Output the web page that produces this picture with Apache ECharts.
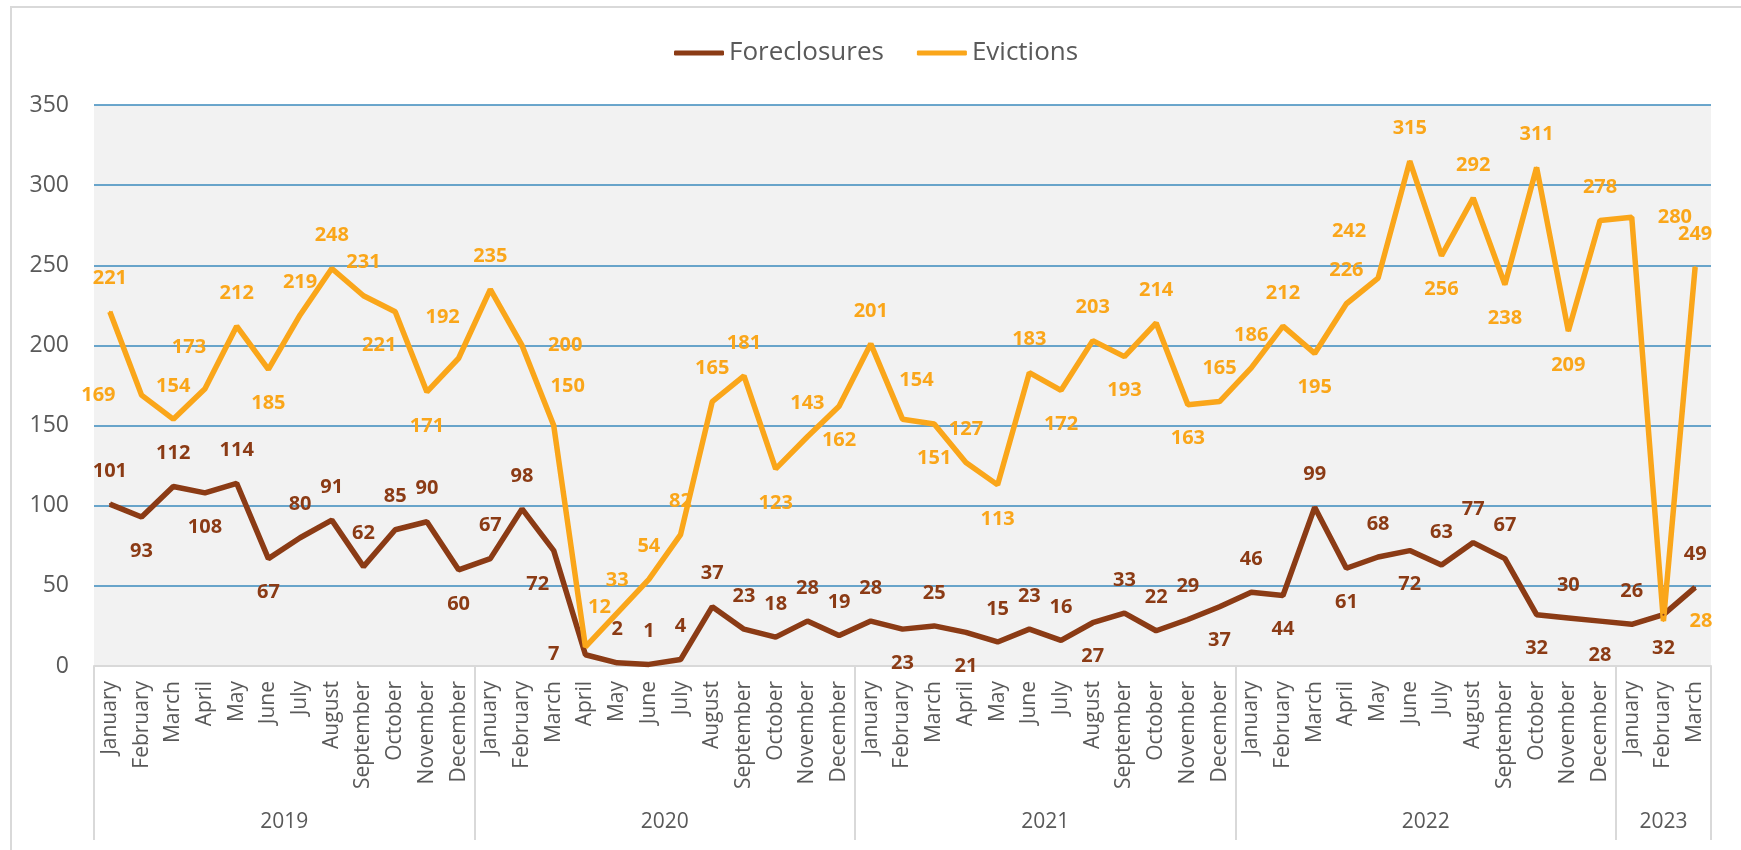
<!DOCTYPE html>
<html>
<head>
<meta charset="utf-8">
<script src="https://cdn.jsdelivr.net/npm/echarts@6/dist/echarts.min.js"></script>
<style>
  html, body { margin: 0; padding: 0; background: #fff; }
  #chart { width: 1741px; height: 850px; }
</style>
</head>
<body>
<div id="chart"></div>
<script>
  // data
  const years = ['2019', '2020', '2021', '2022', '2023']
  const monthsPerYear = [12, 12, 12, 12, 3]
  const monthNames = ['January', 'February', 'March', 'April', 'May', 'June',
    'July', 'August', 'September', 'October', 'November', 'December']

  const foreclosures = [
    101, 93, 112, 108, 114, 67, 80, 91, 62, 85, 90, 60,
    67, 98, 72, 7, 2, 1, 4, 37, 23, 18, 28, 19,
    28, 23, 25, 21, 15, 23, 16, 27, 33, 22, 29, 37,
    46, 44, 99, 61, 68, 72, 63, 77, 67, 32, 30, 28,
    26, 32, 49
  ]
  const evictions = [
    221, 169, 154, 173, 212, 185, 219, 248, 231, 221, 171, 192,
    235, 200, 150, 12, 33, 54, 82, 165, 181, 123, 143, 162,
    201, 154, 151, 127, 113, 183, 172, 203, 193, 214, 163, 165,
    186, 212, 195, 226, 242, 315, 256, 292, 238, 311, 209, 278,
    280, 28, 249
  ]
  const yTicks = [0, 50, 100, 150, 200, 250, 300, 350]

  // where each data label sits (t = above, b = below, l = left, r = right,
  // tl / tr / bl = above or below, nudged sideways)
  const foreLabelPos = [
    't','b','t','b','t','b','t','t','t','t','t','b',
    't','t','bl','l','t','t','t','t','t','t','t','t',
    't','b','t','b','t','t','t','b','t','t','t','b',
    't','b','t','b','t','b','t','t','t','b','t','b',
    't','b','t'
  ]
  const evicLabelPos = [
    't','l','t','tl','t','b','t','t','t','bl','b','tl',
    't','r','tr','tr','t','t','t','t','t','b','t','b',
    't','tr','b','t','b','t','b','t','b','t','b','t',
    't','t','b','t','tll','t','b','t','b','t','b','t',
    'r','r','t'
  ]

  let categories = []
  years.forEach(function (y, i) {
    categories = categories.concat(monthNames.slice(0, monthsPerYear[i]))
  })
  // year group edges and centres on a 0..n scale
  let edges = [0]
  let centres = []
  monthsPerYear.forEach(function (n) {
    let start = edges[edges.length - 1]
    centres.push(start + n / 2)
    edges.push(start + n)
  })

  const brown = '#8b3b15'
  const orange = '#faa61a'
  const font = "'Open Sans', 'Noto Sans', sans-serif"

  function labelFor(code) {
    switch (code) {
      case 'b': return { position: 'bottom', distance: 23 }
      case 'l': return { position: 'left', distance: 25 }
      case 'r': return { position: 'right', distance: 25 }
      case 'tl': return { position: 'top', distance: 30, offset: [-16, 0] }
      case 'tr': return { position: 'top', distance: 28, offset: [14, 0] }
      case 'bl': return { position: 'bottom', distance: 23, offset: [-16, 0] }
      case 'tll': return { position: 'top', distance: 36, offset: [-29, 0] }
      default: return { position: 'top', distance: 22 }
    }
  }

  let myChart = echarts.init(document.getElementById('chart'))
  const option = {
    backgroundColor: '#fff',
    textStyle: { fontFamily: font },
    animation: false,
    graphic: [{
      type: 'rect',
      silent: true,
      shape: { x: 11, y: 7, width: 1780, height: 900 },
      style: { fill: 'none', stroke: '#d9d9d9', lineWidth: 2 }
    }],
    legend: {
      top: 35,
      left: 669,
      itemWidth: 50,
      itemHeight: 5,
      itemGap: 33,
      icon: 'roundRect',
      textStyle: { color: '#595959', fontSize: 26, fontFamily: font },
      data: ['Foreclosures', 'Evictions']
    },
    grid: {
      left: 94,
      right: 30,
      top: 105,
      bottom: 184,
      show: true,
      backgroundColor: '#f2f2f2',
      borderWidth: 0
    },
    xAxis: [
      {
        type: 'category',
        data: categories,
        boundaryGap: true,
        axisLine: { lineStyle: { color: '#d9d9d9', width: 2 } },
        axisTick: { show: false },
        axisLabel: {
          interval: 0,
          rotate: 90,
          margin: 15,
          color: '#595959',
          fontSize: 21,
          fontFamily: font
        }
      },
      {
        type: 'value',
        position: 'bottom',
        min: 0,
        max: categories.length,
        splitLine: { show: false },
        axisLine: { show: false },
        axisTick: {
          show: true,
          length: 174,
          customValues: edges,
          lineStyle: { color: '#d9d9d9', width: 2 }
        },
        axisLabel: {
          customValues: centres,
          margin: 146,
          color: '#595959',
          fontSize: 21,
          fontFamily: font,
          formatter: function (v) {
            let i = centres.indexOf(v)
            return i >= 0 ? years[i] : ''
          }
        }
      }
    ],
    yAxis: {
      type: 'value',
      min: yTicks[0],
      max: yTicks[yTicks.length - 1],
      interval: yTicks[1] - yTicks[0],
      axisLine: { show: false },
      axisTick: { show: false },
      axisLabel: { color: '#595959', fontSize: 23, margin: 25, fontFamily: font },
      splitLine: { lineStyle: { color: '#3a8abd', width: 1.5 } }
    },
    series: [
      {
        name: 'Foreclosures',
        type: 'line',
        xAxisIndex: 0,
        symbol: 'circle',
        symbolSize: 2,
        showSymbol: true,
        color: brown,
        lineStyle: { width: 5.5, color: brown },
        label: { show: true, color: brown, fontSize: 20, fontWeight: 'bold', fontFamily: font },
        data: foreclosures.map(function (v, i) {
          return { value: v, label: labelFor(foreLabelPos[i]) }
        })
      },
      {
        name: 'Evictions',
        type: 'line',
        xAxisIndex: 0,
        symbol: 'circle',
        symbolSize: 2,
        showSymbol: true,
        color: orange,
        lineStyle: { width: 5.5, color: orange },
        label: { show: true, color: orange, fontSize: 20, fontWeight: 'bold', fontFamily: font },
        data: evictions.map(function (v, i) {
          return { value: v, label: labelFor(evicLabelPos[i]) }
        })
      }
    ]
  }
  myChart.setOption(option)
</script>
</body>
</html>
